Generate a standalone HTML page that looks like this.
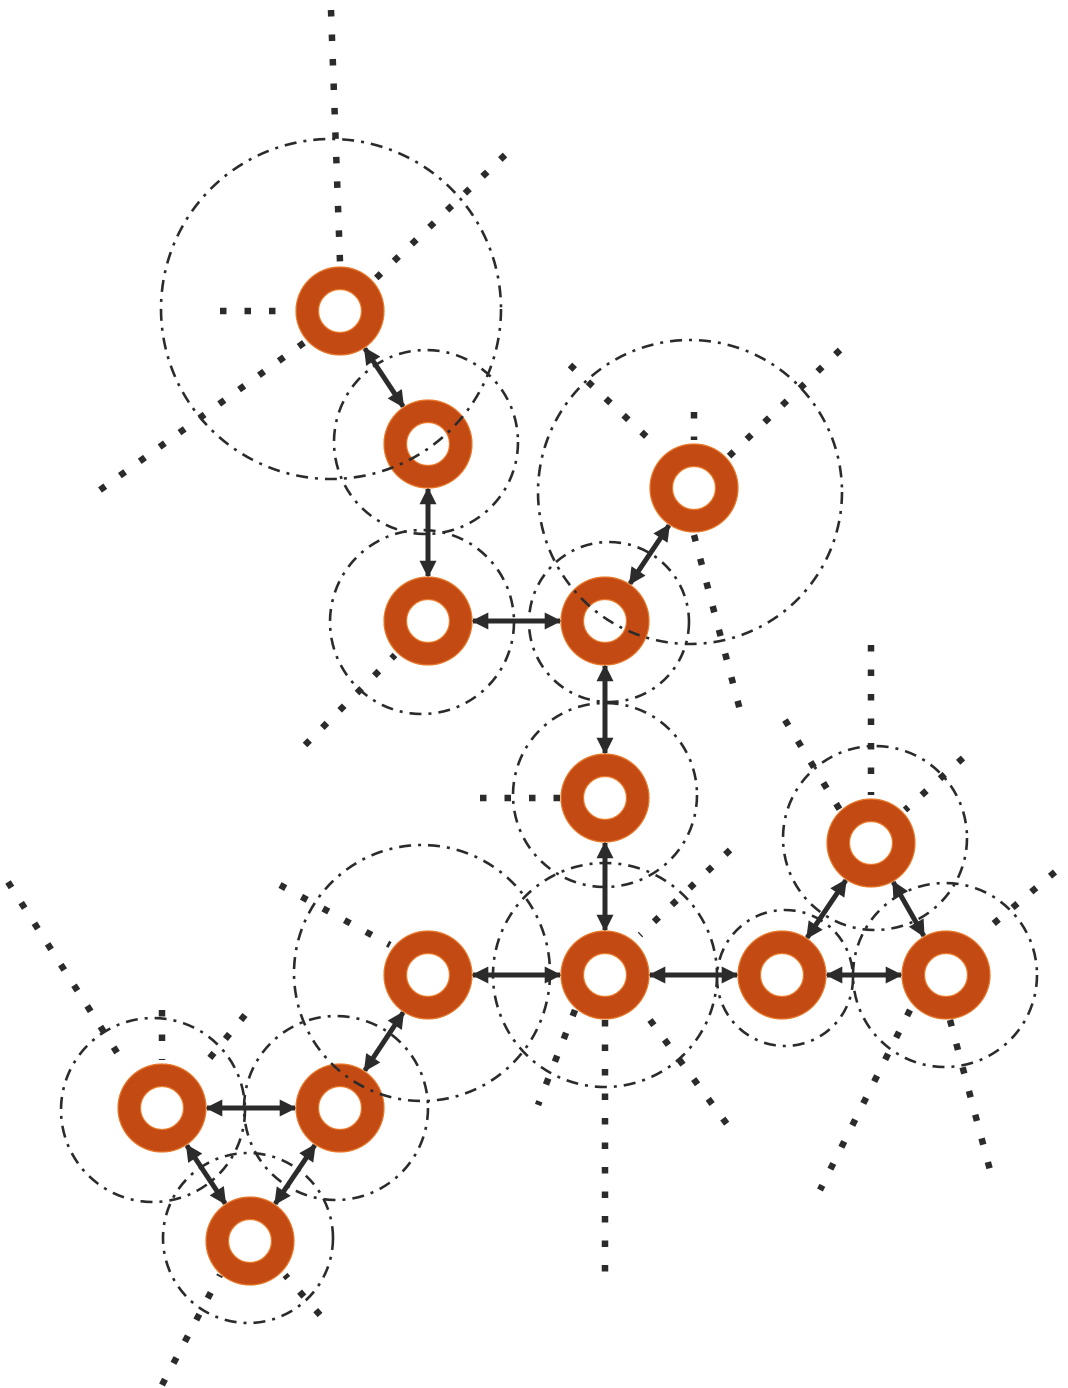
<!DOCTYPE html>
<html><head><meta charset="utf-8"><style>html,body{margin:0;padding:0;background:#fff}svg{display:block}</style></head>
<body>
<svg id="chart" width="1068" height="1388" viewBox="0 0 1068 1388" xmlns="http://www.w3.org/2000/svg">
<defs>
<marker id="ah" viewBox="0 0 10 10" refX="9" refY="5" markerWidth="3.4" markerHeight="3.4" orient="auto-start-reverse" markerUnits="strokeWidth"><path d="M0,0 L10,5 L0,10 z" fill="#2b2b2b"/></marker>
</defs>
<g id="dots"></g><g id="edges"></g><g id="nodes"></g><g id="ranges"></g>
</svg>
<script>
const nodeIds=["A","B","C","D","E","F","G","H","I","J","K","L","M","N"];
const nodeX=[340,428,428,605,694,605,605,428,782,871,946,340,162,250];
const nodeY=[311,444,621,621,488,798,975,975,975,843,975,1108,1108,1241];
const edgeFrom=["A","B","C","D","D","F","G","G","I","I","J","H","L","M","L"];
const edgeTo=  ["B","C","D","E","F","G","H","I","J","K","K","L","M","N","N"];
const rangeCx=[331,426,422,609,690,605,605,422,785,875,945,336,153,248];
const rangeCy=[309,442,622,622,492,795,975,973,978,838,975,1108,1110,1238];
const rangeR=[170,92,92,80,152,92,112,128,68,92,92,92,92,85];
const dotLines=[[331,10,340,262],[220,311,290,311],[505,155,372,282],[100,490,305,342],
[694,412,694,440],[570,365,650,440],[840,350,725,460],[694,535,740,710],[305,745,395,655],
[480,798,560,798],[871,645,871,795],[785,720,840,810],[963,758,905,810],
[1055,872,980,935],[950,1020,990,1170],[910,1010,820,1190],
[730,850,640,935],[605,1020,605,1280],[650,1020,735,1135],[575,1010,538,1105],
[280,885,390,945],[162,1010,162,1060],[8,882,125,1065],[245,1015,200,1070],
[162,1385,220,1275],[320,1315,285,1275]];
const NS="http://www.w3.org/2000/svg";
function mk(t,a,p){const e=document.createElementNS(NS,t);for(const k in a)e.setAttribute(k,a[k]);p.appendChild(e);return e;}
const gD=document.getElementById('dots'),gE=document.getElementById('edges'),gN=document.getElementById('nodes'),gR=document.getElementById('ranges');
dotLines.forEach(l=>{const e=mk('line',{x1:l[0],y1:l[1],x2:l[2],y2:l[3],stroke:'#2b2b2b','stroke-width':6.5,'stroke-dasharray':'6.5 18'},gD);

});
const idx=id=>nodeIds.indexOf(id);
edgeFrom.forEach((f,i)=>{const a=idx(f),b=idx(edgeTo[i]);const x1=nodeX[a],y1=nodeY[a],x2=nodeX[b],y2=nodeY[b];
const d=Math.hypot(x2-x1,y2-y1),ux=(x2-x1)/d,uy=(y2-y1)/d,o=45;
const e=mk('line',{x1:x1+ux*o,y1:y1+uy*o,x2:x2-ux*o,y2:y2-uy*o,stroke:'#2b2b2b','stroke-width':5,'marker-start':'url(#ah)','marker-end':'url(#ah)'},gE);

});
nodeIds.forEach((id,i)=>{const c=mk('circle',{cx:nodeX[i],cy:nodeY[i],r:33,fill:'none',stroke:'#c44a14','stroke-width':23},gN);


mk('circle',{cx:nodeX[i],cy:nodeY[i],r:44,fill:'none',stroke:'#e87a2a','stroke-width':1.2},gN);
mk('circle',{cx:nodeX[i],cy:nodeY[i],r:21.5,fill:'none',stroke:'#e87a2a','stroke-width':1.2},gN);});
rangeR.forEach((r,i)=>{const c=mk('circle',{cx:rangeCx[i],cy:rangeCy[i],r:r,fill:'none',stroke:'#2b2b2b','stroke-width':2.6,'stroke-dasharray':'12 7 3 7'},gR);

});
</script>
</body></html>
